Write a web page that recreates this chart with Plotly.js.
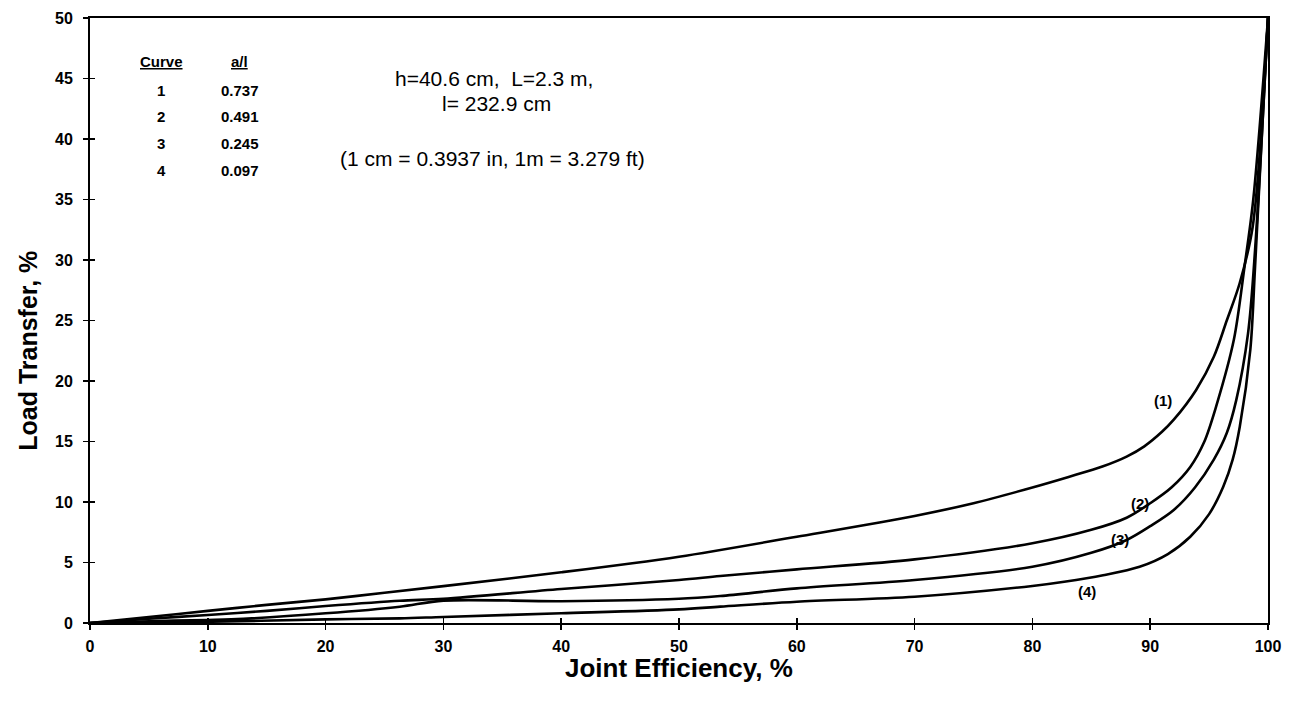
<!DOCTYPE html>
<html>
<head>
<meta charset="utf-8">
<script src="https://cdn.plot.ly/plotly-3.0.1.min.js"></script>
<style>html,body{margin:0;padding:0;background:#fff;}#chart{width:1290px;height:707px;}</style>
</head>
<body>
<div id="chart"></div>
<script>
// Joint efficiency (x) and load transfer (y) for each curve
const curve1X = [0, 5, 10, 15, 20, 25, 30, 40, 50, 60, 70, 75, 80, 83, 86, 88, 89.5, 91, 92, 93.9, 95.4, 96.5, 97.6, 98.7, 100];
const curve1Y = [0, 0.5, 1.0, 1.5, 1.95, 2.5, 3.05, 4.19, 5.48, 7.13, 8.85, 9.9, 11.2, 12.05, 12.95, 13.75, 14.6, 15.8, 16.8, 19.26, 22.0, 25.0, 28.1, 32.75, 50];

const curve2X = [0, 5, 10, 15, 20, 26.3, 30, 40, 50, 53.5, 60, 70, 80, 85, 88, 90, 91.8, 93.4, 94.6, 95.6, 97.1, 98.0, 98.75, 100];
const curve2Y = [0, 0.35, 0.66, 1.0, 1.4, 1.84, 2.0, 2.81, 3.55, 3.88, 4.43, 5.26, 6.59, 7.7, 8.7, 9.9, 11.2, 12.9, 15.0, 17.9, 23.4, 29.4, 35, 50];

const curve3X = [0, 5, 10, 12, 20, 26.3, 30, 40, 50, 53.5, 60, 70, 80, 85, 88, 90, 92, 93.8, 95.4, 96.5, 97.3, 98.3, 98.9, 100];
const curve3Y = [0, 0.15, 0.25, 0.3, 0.8, 1.35, 1.85, 1.8, 2.0, 2.23, 2.86, 3.55, 4.65, 5.8, 6.86, 8.0, 9.34, 11.2, 13.5, 15.7, 18.4, 23.9, 30.8, 50];

const curve4X = [0, 10, 20, 26.3, 30, 40, 50, 53.5, 60, 70, 80, 82.7, 86, 89.1, 91.5, 93.4, 95.0, 96.2, 97.0, 97.6, 98.5, 98.9, 100];
const curve4Y = [0, 0.1, 0.3, 0.38, 0.5, 0.8, 1.13, 1.35, 1.76, 2.17, 3.06, 3.41, 3.95, 4.65, 5.7, 7.13, 9.0, 11.26, 13.5, 16.2, 22.6, 29.4, 50];

const curveNames = ['1', '2', '3', '4'];
const aOverL = ['0.737', '0.491', '0.245', '0.097'];
const curveLabels = ['(1)', '(2)', '(3)', '(4)'];
const labelX = [91.1, 89.1, 87.4, 84.6];
const labelY = [18.35, 9.9, 6.9, 2.6];

const xTicks = [0, 10, 20, 30, 40, 50, 60, 70, 80, 90, 100];
const yTicks = [0, 5, 10, 15, 20, 25, 30, 35, 40, 45, 50];

const FONT = 'Arial, "Liberation Sans", sans-serif';

const lineStyle = {color: '#000', width: 2.6, shape: 'spline', smoothing: 0.9};
const traces = [
  {x: curve1X, y: curve1Y, mode: 'lines', line: lineStyle, hoverinfo: 'skip'},
  {x: curve2X, y: curve2Y, mode: 'lines', line: lineStyle, hoverinfo: 'skip'},
  {x: curve3X, y: curve3Y, mode: 'lines', line: lineStyle, hoverinfo: 'skip'},
  {x: curve4X, y: curve4Y, mode: 'lines', line: lineStyle, hoverinfo: 'skip'},
  // carrier for the inner tick overlay axes (invisible)
  {x: [xTicks[0]], y: [yTicks[0]], xaxis: 'x2', yaxis: 'y2', mode: 'markers',
   marker: {opacity: 0, size: 1}, hoverinfo: 'skip'}
];

const annotations = [];
const colX = [6.03, 12.73];
const headerY = 46.39;
const rowY = [44.05, 41.82, 39.59, 37.36];
annotations.push({x: colX[0], y: headerY, showarrow: false,
  text: '<b><span style="text-decoration:underline">Curve</span></b>', font: {family: FONT, size: 15, color: '#000'}});
annotations.push({x: colX[1], y: headerY, showarrow: false,
  text: '<b><span style="text-decoration:underline">a/l</span></b>', font: {family: FONT, size: 15, color: '#000'}});
curveNames.forEach((c, i) => {
  annotations.push({x: colX[0], y: rowY[i], showarrow: false, text: '<b>' + c + '</b>',
    font: {family: FONT, size: 15, color: '#000'}});
  annotations.push({x: colX[1], y: rowY[i], showarrow: false, text: '<b>' + aOverL[i] + '</b>',
    font: {family: FONT, size: 15, color: '#000'}});
});
// notes
annotations.push({x: 34.3, y: 44.96, showarrow: false, text: 'h=40.6 cm,&nbsp; L=2.3 m,',
  font: {family: FONT, size: 21, color: '#000'}});
annotations.push({x: 34.5, y: 42.9, showarrow: false, text: 'l= 232.9 cm',
  font: {family: FONT, size: 21, color: '#000'}});
annotations.push({x: 34.2, y: 38.35, showarrow: false, text: '(1 cm = 0.3937 in, 1m = 3.279 ft)',
  font: {family: FONT, size: 21, color: '#000'}});
// curve labels
curveLabels.forEach((t, i) => {
  annotations.push({x: labelX[i], y: labelY[i], showarrow: false, text: '<b>' + t + '</b>',
    font: {family: FONT, size: 15, color: '#000'}});
});
// axis titles
annotations.push({xref: 'paper', yref: 'paper', x: 0.5, y: -0.0744, yanchor: 'middle', showarrow: false,
  text: '<b>Joint Efficiency, %</b>', font: {family: FONT, size: 26, color: '#000'}});
annotations.push({xref: 'paper', yref: 'paper', x: -0.0526, y: 0.45, xanchor: 'center', yanchor: 'middle',
  textangle: -90, showarrow: false,
  text: '<b>Load Transfer, %</b>', font: {family: FONT, size: 25, color: '#000'}});

const layout = {
  width: 1290, height: 707,
  margin: {l: 90, r: 22, t: 18, b: 84},
  paper_bgcolor: '#fff', plot_bgcolor: '#fff',
  showlegend: false,
  font: {family: FONT, color: '#000'},
  xaxis: {
    range: [0, 100], tickvals: xTicks, ticktext: xTicks.map(v => '<b>' + v + '</b>'),
    ticks: 'outside', ticklen: 5, tickwidth: 1.5, tickcolor: '#000', ticklabelstandoff: 3,
    showline: true, linecolor: '#000', linewidth: 2, mirror: true,
    showgrid: false, zeroline: false, automargin: false,
    tickfont: {family: FONT, size: 16, color: '#000'}
  },
  yaxis: {
    range: [0, 50], tickvals: yTicks, ticktext: yTicks.map(v => '<b>' + v + '</b>'),
    ticks: 'outside', ticklen: 5, tickwidth: 1.5, tickcolor: '#000', ticklabelstandoff: 7,
    showline: true, linecolor: '#000', linewidth: 2, mirror: true,
    showgrid: false, zeroline: false, automargin: false,
    tickfont: {family: FONT, size: 16, color: '#000'}
  },
  xaxis2: {
    overlaying: 'x', range: [0, 100], tickvals: xTicks, showticklabels: false,
    ticks: 'inside', ticklen: 5, tickwidth: 1.5, tickcolor: '#000',
    showline: false, showgrid: false, zeroline: false, side: 'bottom'
  },
  yaxis2: {
    overlaying: 'y', range: [0, 50], tickvals: yTicks, showticklabels: false,
    ticks: 'inside', ticklen: 5, tickwidth: 1.5, tickcolor: '#000',
    showline: false, showgrid: false, zeroline: false, side: 'left'
  },
  annotations: annotations
};

Plotly.newPlot('chart', traces, layout, {displayModeBar: false, staticPlot: true});
</script>
</body>
</html>
